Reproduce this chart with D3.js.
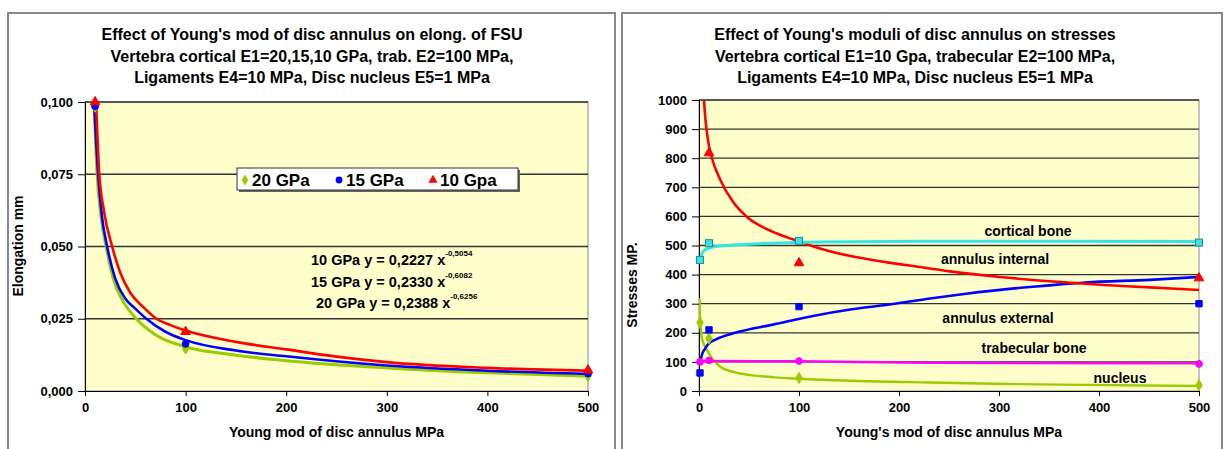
<!DOCTYPE html>
<html><head><meta charset="utf-8">
<script src="https://cdn.jsdelivr.net/npm/d3@7"></script>
<style>
body{margin:0;background:#fff;}
text{font-family:"Liberation Sans",Arial,sans-serif;font-weight:bold;fill:#000;}
</style>
</head><body>
<svg id="c" width="1226" height="449"></svg>
<script>
// ---------- DATA ----------
const xTicks = [0, 100, 200, 300, 400, 500];

// Left chart: elongation
const leftTitle = ["Effect of Young's mod of disc annulus on elong. of FSU",
  "Vertebra cortical E1=20,15,10 GPa, trab. E2=100 MPa,",
  "Ligaments E4=10 MPa, Disc nucleus E5=1 MPa"];
const leftYTicks = [0, 0.025, 0.05, 0.075, 0.1];
const leftYTickLabels = ["0,000", "0,025", "0,050", "0,075", "0,100"];
const leftSeries = ["20 GPa", "15 GPa", "10 Gpa"];
const leftMarkX = [10, 100, 500];
const m20 = [0.0985, 0.0148, 0.0053];
const m15 = [0.0985, 0.0163, 0.0060];
const m10 = [0.1000, 0.0205, 0.0072];
// trend curves, read point by point
const fit20X = [9, 12, 16, 21, 28, 38, 51, 70, 100, 150, 200, 300, 400, 500];
const fit20Y = [0.100, 0.075, 0.060, 0.050, 0.039, 0.031, 0.025, 0.0195, 0.0153, 0.0124, 0.0105, 0.0080, 0.0063, 0.0051];
const fit15X = [9, 13, 17, 22, 30, 40, 50, 61, 80, 100, 150, 200, 300, 400, 500];
const fit15Y = [0.100, 0.075, 0.060, 0.050, 0.039, 0.032, 0.0285, 0.025, 0.0205, 0.0176, 0.0140, 0.0120, 0.0088, 0.0070, 0.0059];
const fit10X = [11, 14, 19, 27, 35, 45, 58, 71, 85, 100, 150, 200, 250, 300, 400, 500];
const fit10Y = [0.100, 0.076, 0.062, 0.050, 0.041, 0.034, 0.029, 0.025, 0.0228, 0.0209, 0.0170, 0.0144, 0.0119, 0.0100, 0.0080, 0.0070];
const eqNames = ["10 GPa", "15 GPa", "20 GPa"];
const eqCoef = ["0,2227", "0,2330", "0,2388"];
const eqExp = ["-0,5054", "-0,6082", "-0,6256"];

// Right chart: stresses
const rightTitle = ["Effect of Young's moduli of disc annulus on stresses",
  "Vertebra cortical E1=10 Gpa, trabecular E2=100 MPa,",
  "Ligaments E4=10 MPa, Disc nucleus E5=1 MPa"];
const rightYTicks = [0, 100, 200, 300, 400, 500, 600, 700, 800, 900, 1000];
const rightMarkX = [1, 10, 100, 500];
const cortM = [450, 508, 516, 510];
const intMX = [10, 100, 500];
const intM = [818, 440, 388];
const extM = [62, 210, 290, 300];
const trabM = [100, 105, 103, 93];
const nucM = [235, 180, 45, 20];
const cortX = [1, 3, 6, 10, 21, 54, 121, 221, 350, 500];
const cortY = [450, 472, 485, 491, 498, 505, 512, 515, 515, 514];
const intX = [3, 5, 9, 13, 21, 34, 48, 68, 88, 101, 121, 154, 188, 221, 251, 301, 351, 401, 451, 500];
const intY = [1150, 1000, 862, 800, 728, 650, 598, 556, 528, 513, 490, 462, 442, 426, 411, 392, 377, 365, 356, 347];
const extX = [1, 3, 6, 9, 20, 36, 75, 114, 153, 192, 231, 269, 308, 347, 386, 451, 500];
const extY = [95, 125, 145, 160, 182, 200, 229, 258, 281, 298, 318, 335, 350, 362, 373, 382, 392];
const trabX = [1, 100, 230, 500];
const trabY = [103, 102, 97, 95];
const nucX = [0.5, 1, 3, 8, 21, 34, 75, 100, 153, 231, 308, 386, 500];
const nucY = [320, 260, 180, 141, 84, 66, 47, 42, 35, 29, 24, 21, 17];
const curveLabels = ["cortical bone", "annulus internal", "annulus external", "trabecular bone", "nucleus"];

// ---------- DRAWING ----------
const svg = d3.select("#c");
const zip = (xs, ys) => xs.map((x, i) => [x, ys[i]]);

// panels
[[8, 13, 607, 460], [622, 13, 600, 460]].forEach(p => {
  svg.append("rect").attr("x", p[0]).attr("y", p[1]).attr("width", p[2]).attr("height", p[3])
    .attr("fill", "#fff").attr("stroke", "#8a8a8a").attr("stroke-width", 2);
});

function titles(lines, cx) {
  lines.forEach((t, i) => svg.append("text").attr("x", cx).attr("y", 40 + i * 21.5)
    .attr("text-anchor", "middle").attr("font-size", 16).text(t));
}
titles(leftTitle, 312);
titles(rightTitle, 915);

function frame(x, y, id, yTicks, yLabels, xTitle, yTitle, yTitleX, yTitleY) {
  const g = svg.append("g");
  const [x0, x1] = x.range(), [y0, y1] = y.range();
  g.append("rect").attr("x", x0).attr("y", y1).attr("width", x1 - x0).attr("height", y0 - y1)
    .attr("fill", "#FFFFCC").attr("stroke", "#8a8a8a").attr("stroke-width", 1);
  yTicks.forEach(v => {
    if (v === yTicks[0]) return;
    g.append("line").attr("x1", x0).attr("x2", x1).attr("y1", y(v)).attr("y2", y(v))
      .attr("stroke", "#333").attr("stroke-width", 1.3);
  });
  const ya = d3.axisLeft(y).tickValues(yTicks).tickSize(7).tickSizeOuter(0)
    .tickFormat((d, i) => yLabels[i]);
  const gy = g.append("g").attr("transform", `translate(${x0},0)`).call(ya);
  gy.selectAll("text").attr("font-size", 13).attr("dx", "-2");
  gy.selectAll("line,path").attr("stroke", "#000");
  const xa = d3.axisBottom(x).tickValues(xTicks).tickSize(5).tickSizeOuter(0);
  const gx = g.append("g").attr("transform", `translate(0,${y0})`).call(xa);
  gx.selectAll("text").attr("font-size", 13).attr("dy", "1.0em");
  gx.selectAll("line,path").attr("stroke", "#000");
  g.append("text").attr("x", (x0 + x1) / 2).attr("y", 437).attr("text-anchor", "middle")
    .attr("font-size", 14).text(xTitle);
  g.append("text").attr("transform", `translate(${yTitleX},${yTitleY}) rotate(-90)`)
    .attr("text-anchor", "middle").attr("font-size", 14).text(yTitle);
  svg.append("clipPath").attr("id", id).append("rect").attr("x", x0).attr("y", y1)
    .attr("width", x1 - x0).attr("height", y0 - y1);
}

function curve(x, y, pts, color, clip, w) {
  svg.append("path").attr("clip-path", `url(#${clip})`)
    .attr("d", d3.line().x(d => x(d[0])).y(d => y(d[1])).curve(d3.curveMonotoneX)(pts))
    .attr("fill", "none").attr("stroke", color).attr("stroke-width", w || 2.6)
    .attr("stroke-linejoin", "round");
}
function marks(x, y, xs, ys, type, color, size) {
  xs.forEach((xv, i) => svg.append("path")
    .attr("transform", `translate(${x(xv)},${y(ys[i])})`)
    .attr("d", d3.symbol().type(type).size(size || 40)())
    .attr("fill", color).attr("stroke", color));
}

// ----- left chart -----
const xL = d3.scaleLinear().domain([0, 500]).range([85, 588]);
const yL = d3.scaleLinear().domain([0, 0.1]).range([391, 102]);
frame(xL, yL, "clipL", leftYTicks, leftYTickLabels, "Young mod of disc annulus MPa", "Elongation mm", 23, 246);

const cGreen = "#99CC00", cBlue = "#0000FF", cRed = "#FF0000";
curve(xL, yL, zip(fit20X, fit20Y), cGreen, "clipL", 3);
curve(xL, yL, zip(fit15X, fit15Y), cBlue, "clipL", 2.6);
curve(xL, yL, zip(fit10X, fit10Y), cRed, "clipL", 2.6);
marks(xL, yL, leftMarkX, m20, d3.symbolDiamond, cGreen, 40);
marks(xL, yL, leftMarkX, m15, d3.symbolCircle, cBlue, 36);
marks(xL, yL, leftMarkX, m10, d3.symbolTriangle, cRed, 40);

// legend
const lg = svg.append("g");
lg.append("rect").attr("x", 239).attr("y", 170).attr("width", 281).attr("height", 22).attr("fill", "#666");
lg.append("rect").attr("x", 237).attr("y", 168).attr("width", 281).attr("height", 22)
  .attr("fill", "#fff").attr("stroke", "#333").attr("stroke-width", 1);
const lgX = [245, 339, 433];
const lgSym = [d3.symbolDiamond, d3.symbolCircle, d3.symbolTriangle];
const lgCol = [cGreen, cBlue, cRed];
leftSeries.forEach((s, i) => {
  lg.append("path").attr("transform", `translate(${lgX[i]},${180})`)
    .attr("d", d3.symbol().type(lgSym[i]).size(36)()).attr("fill", lgCol[i]);
  lg.append("text").attr("x", lgX[i] + 7).attr("y", 186).attr("font-size", 17).text(s);
});

// equations
const eqY = [265, 287, 308], eqX = [311, 311, 316];
eqNames.forEach((n, i) => {
  const t = svg.append("text").attr("x", eqX[i]).attr("y", eqY[i]).attr("font-size", 14.5);
  t.append("tspan").text(`${n}  y = ${eqCoef[i]} x`);
  t.append("tspan").attr("font-size", 8).attr("dy", -9).text(eqExp[i]);
});

// ----- right chart -----
const xR = d3.scaleLinear().domain([0, 500]).range([699, 1199]);
const yR = d3.scaleLinear().domain([0, 1000]).range([391, 100]);
frame(xR, yR, "clipR", rightYTicks, rightYTicks.map(String), "Young's mod of disc annulus MPa", "Stresses MP.", 637, 285);

const cCyan = "#33E6E6", cMag = "#FF00FF";
curve(xR, yR, zip(nucX, nucY), cGreen, "clipR", 2.4);
curve(xR, yR, zip(trabX, trabY), cMag, "clipR", 2.4);
curve(xR, yR, zip(extX, extY), cBlue, "clipR", 2.6);
curve(xR, yR, zip(intX, intY), cRed, "clipR", 2.6);
curve(xR, yR, zip(cortX, cortY), cCyan, "clipR", 3);
marks(xR, yR, rightMarkX, nucM, d3.symbolDiamond, cGreen, 36);
marks(xR, yR, rightMarkX, trabM, d3.symbolCircle, cMag, 36);
marks(xR, yR, rightMarkX, extM, d3.symbolSquare, cBlue, 40);
marks(xR, yR, intMX, intM, d3.symbolTriangle, cRed, 40);
rightMarkX.forEach((xv, i) => svg.append("rect")
  .attr("x", xR(xv) - 3.5).attr("y", yR(cortM[i]) - 3.5).attr("width", 7).attr("height", 7)
  .attr("fill", cCyan).attr("stroke", "#2a8a8a").attr("stroke-width", 1));

const lblX = [1028, 995, 998, 1034, 1120], lblY = [236, 264, 323, 353, 383];
curveLabels.forEach((s, i) => svg.append("text").attr("x", lblX[i]).attr("y", lblY[i])
  .attr("text-anchor", "middle").attr("font-size", 14).text(s));
</script>
</body></html>
